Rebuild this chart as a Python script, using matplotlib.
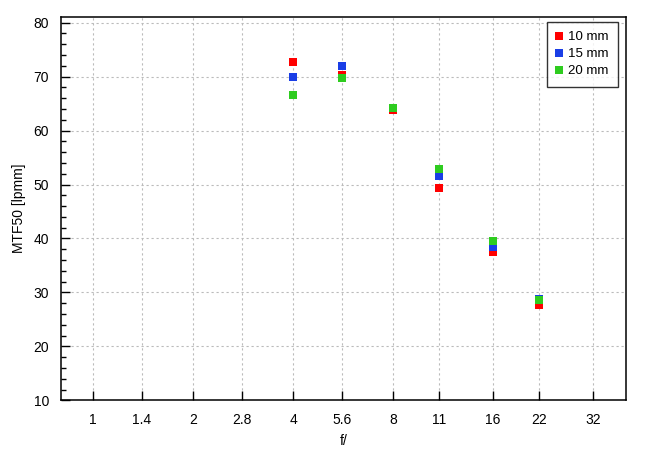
import numpy as np
import matplotlib
matplotlib.use('Agg')
import matplotlib.pyplot as plt
from matplotlib.ticker import MultipleLocator, FixedLocator, NullLocator

plt.rcParams['font.family'] = ['Liberation Sans', 'DejaVu Sans']

f_labels = ['1', '1.4', '2', '2.8', '4', '5.6', '8', '11', '16', '22', '32']
f_values = [1, 1.4, 2, 2.8, 4, 5.6, 8, 11, 16, 22, 32]
measured = [4, 5.6, 8, 11, 16, 22]
mtf_10mm = [72.7, 70.3, 63.9, 49.4, 37.4, 27.6]
mtf_15mm = [69.9, 72.0, 64.1, 51.6, 38.5, 28.8]
mtf_20mm = [66.6, 69.8, 64.2, 52.9, 39.6, 28.6]

series = [('10 mm', mtf_10mm, '#ff0000'),
          ('15 mm', mtf_15mm, '#1a3ee6'),
          ('20 mm', mtf_20mm, '#2ecc1f')]

fig = plt.figure(figsize=(6.5, 4.55), dpi=100)
ax = fig.add_axes([0.0946, 0.1202, 0.868, 0.8424])

for name, vals, col in series:
    ax.plot(measured, vals, linestyle='none', marker='s', markersize=5.2,
            color=col, markeredgewidth=0, label=name)

ax.set_xscale('log')
ax.set_xlim(0.804, 40.1)
ax.set_ylim(10, 81.05)
ax.xaxis.set_major_locator(FixedLocator(f_values))
ax.xaxis.set_minor_locator(NullLocator())
ax.set_xticklabels(f_labels)
ax.yaxis.set_major_locator(MultipleLocator(10))
ax.yaxis.set_minor_locator(MultipleLocator(2))

ax.grid(True, which='major', color='#bbbbbb', linestyle=(0, (2, 2.5)), linewidth=0.8)
ax.set_axisbelow(True)
ax.tick_params(direction='in', which='major', length=6.2, width=1, labelsize=10,
               pad=9, top=False, right=False, colors='black')
ax.tick_params(direction='in', which='minor', length=3.4, width=1, top=False, right=False)
for sp in ax.spines.values():
    sp.set_linewidth(1.1)

ax.set_xlabel('f/', fontsize=10, labelpad=5.5)
ax.set_ylabel('MTF50 [lpmm]', fontsize=10, labelpad=5)

leg = ax.legend(loc='upper right', fontsize=9.5, frameon=True, fancybox=False,
                edgecolor='black', handlelength=0.55, handletextpad=0.4,
                borderpad=0.7, labelspacing=0.36, markerscale=1.0,
                borderaxespad=0, bbox_to_anchor=(0.9864, 0.987))
leg.get_frame().set_linewidth(1.0)

fig.savefig('out.png', dpi=100)
